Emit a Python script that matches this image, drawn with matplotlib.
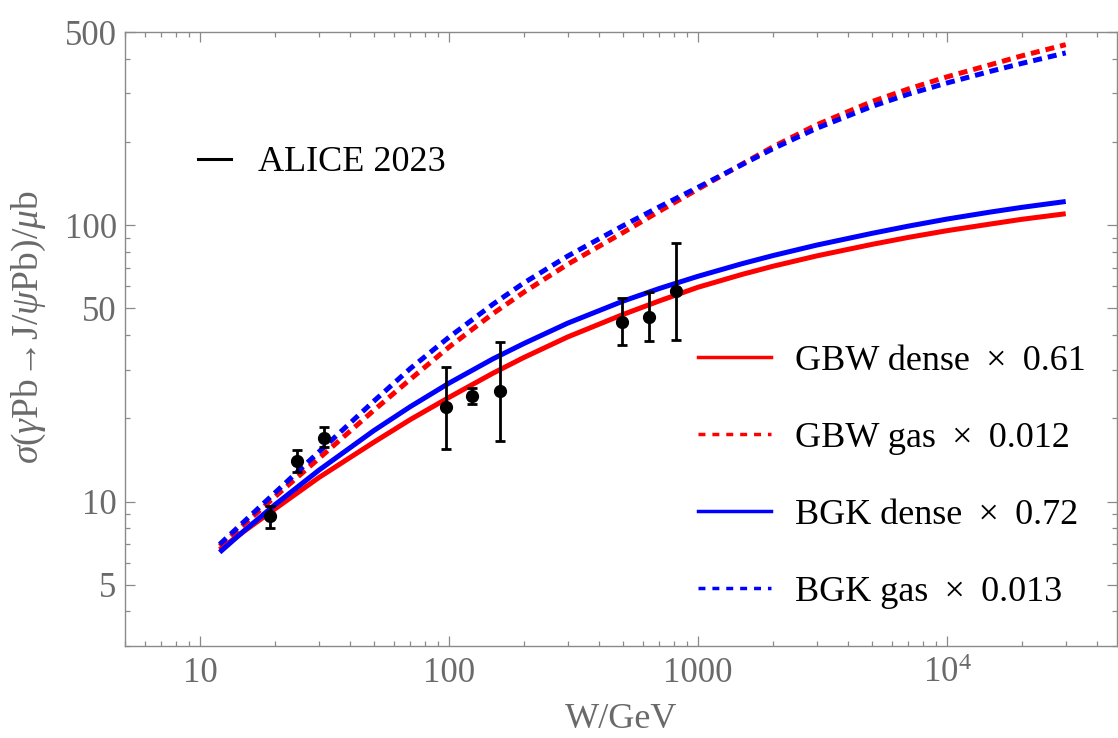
import matplotlib
matplotlib.use("Agg")
import matplotlib.pyplot as plt
import matplotlib.ticker as mticker
from matplotlib.lines import Line2D

# ---- data ----
W_grid = [12, 15, 20, 30, 50, 70, 100, 150, 200, 300, 500, 700, 1000, 1500, 2000,
          3000, 5000, 7000, 10000, 15000, 20000, 30000]
gbw_dense = [6.70, 7.79, 9.40, 12.2, 16.4, 19.8, 23.8, 29.1, 33.2, 39.4, 47.5, 53.2,
             59.6, 66.3, 71.0, 77.4, 85.2, 90.3, 95.5, 101.0, 105.0, 110.0]
bgk_dense = [6.55, 7.82, 9.73, 12.97, 18.07, 22.05, 26.8, 32.8, 37.3, 44.2, 53.1, 59.0,
             65.3, 72.5, 77.6, 84.7, 93.4, 99.2, 105.2, 111.6, 116.0, 121.8]
gbw_gas = [6.9, 8.25, 10.4, 14.3, 21.4, 27.7, 36.2, 47.8, 57.2, 72.2, 94.0, 112.3,
           135, 166.1, 192, 230.8, 280, 311, 344, 381, 410, 450]
bgk_gas = [7.0, 8.44, 10.75, 15.1, 23.1, 30.3, 39.3, 51.7, 61.8, 77.3, 99.5, 116.5,
           137, 165.4, 189, 224.2, 269, 297.9, 327, 360.6, 385, 420]

alice_W = [19.1, 24.5, 31.4, 97, 124, 160, 496, 634, 813]
alice_sigma = [8.85, 14.0, 17.0, 21.9, 24.0, 25.2, 44.6, 46.5, 57.9]
alice_err_up = [0.8, 1.3, 1.6, 8.7, 1.7, 12.7, 9.8, 10.8, 28.0]
alice_err_dn = [0.8, 1.2, 1.3, 6.4, 1.4, 8.6, 7.7, 8.5, 19.4]

x_tick_vals = [10, 100, 1000, 10000]
x_tick_labels = ["10", "100", "1000", r"$10^4$"]
y_tick_vals = [5, 10, 50, 100, 500]
y_tick_labels = ["5", "10", "50", "100", "500"]

labels = ["GBW dense \u2009\u00d7\u2009 0.61", "GBW gas \u2009\u00d7\u2009 0.012",
          "BGK dense \u2009\u00d7\u2009 0.72", "BGK gas \u2009\u00d7\u2009 0.013"]

plt.rcParams["font.family"] = ["Liberation Serif", "DejaVu Serif"]
plt.rcParams["mathtext.fontset"] = "custom"
plt.rcParams["mathtext.rm"] = "Liberation Serif"
plt.rcParams["mathtext.it"] = "Liberation Serif:italic"
plt.rcParams["mathtext.bf"] = "Liberation Serif:bold"

gray = "#6a6a6a"
spine_gray = "#8a8a8a"

fig = plt.figure(figsize=(11.18, 7.38), dpi=100)
ax = fig.add_axes([125/1118, 1-646/738, (1117-125)/1118, (646-32)/738])

lw = 3.6
dots = (1.8, 1.2)
ax.plot(W_grid, gbw_dense, color="red", lw=lw, solid_capstyle="butt", solid_joinstyle="round")
ax.plot(W_grid, gbw_gas, color="red", lw=lw, dashes=dots, dash_capstyle="butt")
ax.plot(W_grid, bgk_dense, color="blue", lw=lw, solid_capstyle="butt", solid_joinstyle="round")
ax.plot(W_grid, bgk_gas, color="blue", lw=lw, dashes=dots, dash_capstyle="butt")

ax.errorbar(alice_W, alice_sigma, yerr=[alice_err_dn, alice_err_up], fmt="o",
            color="black", ms=8.5, elinewidth=2.0, capsize=3.5, capthick=2.0, zorder=5)

ax.set_xscale("log")
ax.set_yscale("log")
ax.set_xlim(5, 48200)
ax.set_ylim(3, 500)

ax.xaxis.set_major_locator(mticker.FixedLocator(x_tick_vals))
ax.xaxis.set_major_formatter(mticker.FixedFormatter(x_tick_labels))
ax.xaxis.set_minor_locator(mticker.LogLocator(base=10, subs=range(2, 10), numticks=20))
ax.xaxis.set_minor_formatter(mticker.NullFormatter())
ax.yaxis.set_major_locator(mticker.FixedLocator(y_tick_vals))
ax.yaxis.set_major_formatter(mticker.FixedFormatter(y_tick_labels))
ax.yaxis.set_minor_locator(mticker.LogLocator(base=10, subs=range(1, 10), numticks=20))
ax.yaxis.set_minor_formatter(mticker.NullFormatter())

ax.tick_params(which="both", direction="in", top=True, right=True, color=spine_gray,
               width=0.9, labelcolor=gray, labelsize=25)
ax.tick_params(which="major", length=7)
ax.tick_params(which="minor", length=3.5)
ax.tick_params(axis="x", which="major", pad=8)
ax.tick_params(axis="y", which="major", pad=6)
for s in ax.spines.values():
    s.set_color(spine_gray)
    s.set_linewidth(1.0)

ax.set_xlabel("W/GeV", fontsize=26, color=gray)
ax.set_ylabel(r"$\sigma(\gamma\mathrm{Pb}\!\rightarrow\!\mathrm{J}/\psi\mathrm{Pb})/\mu\mathrm{b}$",
              fontsize=27, color=gray)
ax.xaxis.set_label_coords(0.5, -0.093)
ax.yaxis.set_label_coords(-0.078, 0.52)

# legends
h_alice = [Line2D([], [], color="black", lw=2.2)]
leg1 = ax.legend(h_alice, ["ALICE 2023"], loc="upper left", bbox_to_anchor=(0.0736, 0.814),
                 frameon=False, fontsize=26, handlelength=0.9, handletextpad=0.75,
                 borderpad=0, borderaxespad=0)
ax.add_artist(leg1)

h_models = [Line2D([], [], color="red", lw=2.5),
            Line2D([], [], color="red", lw=2.5, dashes=(2, 2)),
            Line2D([], [], color="blue", lw=2.5),
            Line2D([], [], color="blue", lw=2.5, dashes=(2, 2))]
ax.legend(h_models, labels, loc="upper left", bbox_to_anchor=(0.578, 0.491),
          frameon=False, fontsize=26, handlelength=2.0, handletextpad=0.68,
          labelspacing=1.21, borderpad=0, borderaxespad=0)

fig.savefig("out.png", dpi=100)
